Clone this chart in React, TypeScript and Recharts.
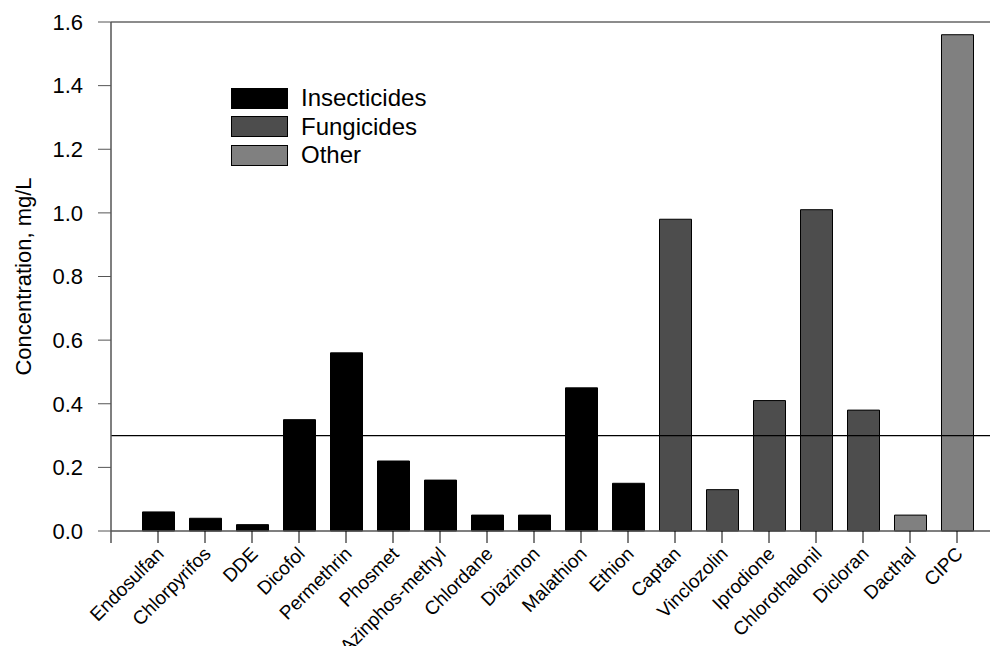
import React from "react"
import * as R from "recharts"
import { BarChart, Bar, Cell, XAxis, YAxis, ReferenceLine, Label } from "recharts"

const compounds = [
  "Endosulfan", "Chlorpyrifos", "DDE", "Dicofol", "Permethrin", "Phosmet",
  "Azinphos-methyl", "Chlordane", "Diazinon", "Malathion", "Ethion", "Captan",
  "Vinclozolin", "Iprodione", "Chlorothalonil", "Dicloran", "Dacthal", "CIPC",
]
const concentrations = [
  0.06, 0.04, 0.02, 0.35, 0.56, 0.22, 0.16, 0.05, 0.05, 0.45, 0.15, 0.98,
  0.13, 0.41, 1.01, 0.38, 0.05, 1.56,
]
const classes = [
  "Insecticides", "Insecticides", "Insecticides", "Insecticides", "Insecticides", "Insecticides",
  "Insecticides", "Insecticides", "Insecticides", "Insecticides", "Insecticides", "Fungicides",
  "Fungicides", "Fungicides", "Fungicides", "Fungicides", "Other", "Other",
]
const groups = ["Insecticides", "Fungicides", "Other"]
const groupColors: Record<string, string> = {
  Insecticides: "#000000",
  Fungicides: "#4d4d4d",
  Other: "#808080",
}
const yTicks = [0, 0.2, 0.4, 0.6, 0.8, 1.0, 1.2, 1.4, 1.6]
const threshold = 0.3

const data = compounds.map((name, i) => ({ name, value: concentrations[i], group: classes[i] }))

const font = "'Liberation Sans', Arial, sans-serif"

function XTick(props: any) {
  const { x, y, payload } = props
  const ax = x + 7
  const ay = y + 10
  return (
    <text
      x={ax}
      y={ay}
      transform={`rotate(-45 ${ax} ${ay})`}
      textAnchor="end"
      fontSize={19}
      fontFamily={font}
      fill="#000"
    >
      {payload.value}
    </text>
  )
}

function LegendBox() {
  return (
    <div style={{ position: "absolute", left: 231, top: 84, fontFamily: font }}>
      {groups.map((g) => (
        <div key={g} style={{ display: "flex", alignItems: "center", height: 28.5 }}>
          <div
            style={{
              width: 55,
              height: 19,
              background: groupColors[g],
              border: "1px solid #000",
              marginRight: 13,
            }}
          />
          <span style={{ fontSize: 24, color: "#000" }}>{g}</span>
        </div>
      ))}
    </div>
  )
}

// small bit of y axis poking below the x axis, like the original
function AxisStub() {
  const area = (R as any).usePlotArea ? (R as any).usePlotArea() : null
  if (!area) return null
  return (
    <line
      x1={area.x}
      x2={area.x}
      y1={area.y + area.height}
      y2={area.y + area.height + 12}
      stroke="#555"
      strokeWidth={1.5}
    />
  )
}

export default function App() {
  return (
    <div style={{ position: "absolute", left: 0, top: 0, width: 990, height: 646, overflow: "hidden", background: "#fff" }}>
      <BarChart
        width={1004}
        height={646}
        data={data}
        margin={{ top: 22, right: 0, bottom: 0, left: 0 }}
      >
        <XAxis
          dataKey="name"
          interval={0}
          height={115}
          padding={{ left: 23.5, right: 23.5 }}
          tick={<XTick />}
          tickSize={12}
          tickLine={{ stroke: "#000" }}
          axisLine={{ stroke: "#555", strokeWidth: 1.5 }}
        />
        <YAxis
          width={111}
          domain={[0, 1.6]}
          ticks={yTicks}
          tickFormatter={(v: number) => v.toFixed(1)}
          tickSize={13}
          tickMargin={15}
          tick={{ fontSize: 22, fontFamily: font, fill: "#000" }}
          tickLine={{ stroke: "#555" }}
          axisLine={{ stroke: "#555", strokeWidth: 1.5 }}
        >
          <Label
            content={(p: any) => {
              const vb = p.viewBox
              const cx = 31
              const cy = vb.y + vb.height / 2
              return (
                <text
                  x={cx}
                  y={cy}
                  transform={`rotate(-90 ${cx} ${cy})`}
                  textAnchor="middle"
                  fontSize={22}
                  fontFamily={font}
                  fill="#000"
                >
                  Concentration, mg/L
                </text>
              )
            }}
          />
        </YAxis>
        <ReferenceLine y={1.6} stroke="#666" strokeWidth={1.5} />
        <Bar dataKey="value" barSize={32} isAnimationActive={false} stroke="#000" strokeWidth={1}>
          {data.map((d) => (
            <Cell key={d.name} fill={groupColors[d.group]} />
          ))}
        </Bar>
        <ReferenceLine y={threshold} stroke="#000" strokeWidth={1.2} />
        <AxisStub />
      </BarChart>
      <LegendBox />
    </div>
  )
}
